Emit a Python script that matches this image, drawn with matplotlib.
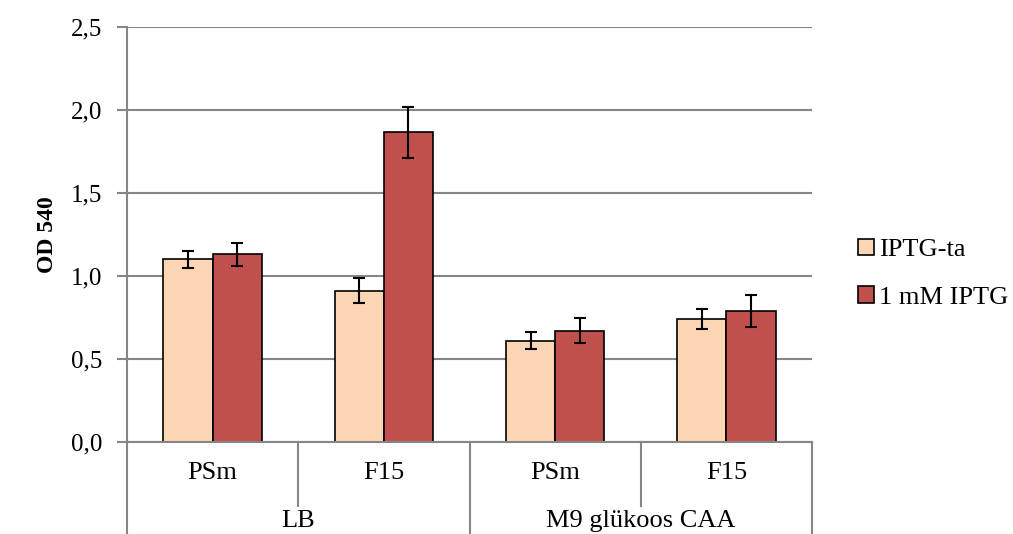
import matplotlib.pyplot as plt
from matplotlib.ticker import FuncFormatter, MultipleLocator
import numpy as np

# Data: two media, two strains each, with and without IPTG
media = ["LB", "M9 glükoos CAA"]
strains = ["PSm", "F15", "PSm", "F15"]
series_names = ["IPTG-ta", "1 mM IPTG"]
no_iptg = [1.10, 0.91, 0.61, 0.74]
no_iptg_err = [0.05, 0.075, 0.05, 0.06]
with_iptg = [1.13, 1.865, 0.67, 0.79]
with_iptg_err = [0.07, 0.155, 0.075, 0.095]

colors = ["#FCD5B5", "#C0504D"]
grid_col = "#868686"

plt.rcParams['font.family'] = ['Liberation Serif', 'DejaVu Serif']
fs = 19

fig = plt.figure(figsize=(10.13, 5.34), dpi=100)
ax = fig.add_axes([127 / 1013, 92 / 534, 685 / 1013, 415 / 534])

x = np.arange(len(strains))
w = 0.287
err_kw = dict(ecolor="black", elinewidth=1.5, capsize=4, capthick=1.5)
ax.bar(x - w / 2, no_iptg, w, yerr=no_iptg_err, color=colors[0],
       edgecolor="black", linewidth=1.2, label=series_names[0], error_kw=err_kw, zorder=3)
ax.bar(x + w / 2, with_iptg, w, yerr=with_iptg_err, color=colors[1],
       edgecolor="black", linewidth=1.2, label=series_names[1], error_kw=err_kw, zorder=3)

ax.set_xlim(-0.5, len(strains) - 0.5)
ax.set_ylim(0, 2.5)
ax.yaxis.set_major_locator(MultipleLocator(0.5))
ax.yaxis.set_major_formatter(FuncFormatter(lambda v, p: f"{v:.1f}".replace(".", ",")))
ax.grid(axis="y", color=grid_col, linewidth=1.5, zorder=0)
ax.tick_params(axis="y", length=7, width=1.5, color=grid_col, labelsize=18, pad=11)
ax.set_xticks([])

for side in ["top", "right", "bottom"]:
    ax.spines[side].set_visible(False)
ax.spines["left"].set_color(grid_col)
ax.spines["left"].set_linewidth(1.5)

ax.set_ylabel("OD 540", fontsize=17, fontweight="bold", labelpad=9)

# Two-level category axis drawn below the plot area
tr = ax.get_xaxis_transform()
ax.plot([-0.5, 3.5], [0, 0], color=grid_col, lw=1.5, transform=tr, clip_on=False, zorder=4)
for b in [0.5, 2.5]:
    ax.plot([b, b], [0, -0.155], color=grid_col, lw=1.5, transform=tr, clip_on=False)
for b in [-0.5, 1.5, 3.5]:
    ax.plot([b, b], [0, -0.23], color=grid_col, lw=1.5, transform=tr, clip_on=False)
for i, s in enumerate(strains):
    ax.text(i, -0.075, s, transform=tr, ha="center", va="center", fontsize=fs)
for j, m in enumerate(media):
    ax.text(2 * j + 0.5, -0.19, m, transform=tr, ha="center", va="center", fontsize=fs)

fig.legend(loc="center left", bbox_to_anchor=(0.824, 0.487), frameon=False,
           fontsize=fs, handlelength=0.58, handleheight=0.58, handletextpad=0.2,
           labelspacing=0.95)

fig.savefig("out.png", dpi=100)
